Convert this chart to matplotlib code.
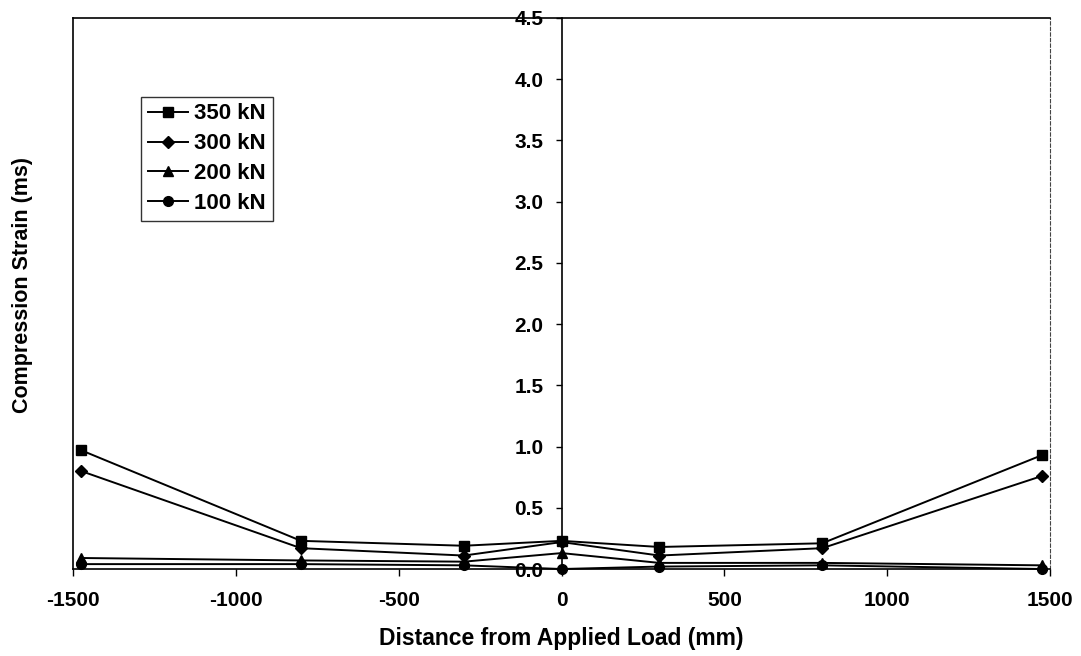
import numpy as np
import matplotlib.pyplot as plt

plt.rcParams['font.family'] = ['Liberation Sans', 'DejaVu Sans']

distance = [-1475, -800, -300, 0, 300, 800, 1475]
strain_350 = [0.97, 0.23, 0.19, 0.23, 0.18, 0.21, 0.93]
strain_300 = [0.80, 0.17, 0.11, 0.22, 0.11, 0.17, 0.76]
strain_200 = [0.09, 0.07, 0.06, 0.13, 0.05, 0.05, 0.03]
strain_100 = [0.04, 0.04, 0.03, 0.00, 0.02, 0.03, 0.00]

series = [
    ('350 kN', strain_350, 's'),
    ('300 kN', strain_300, 'D'),
    ('200 kN', strain_200, '^'),
    ('100 kN', strain_100, 'o'),
]
xticks = [-1500, -1000, -500, 0, 500, 1000, 1500]
yticks = [0.5, 1.0, 1.5, 2.0, 2.5, 3.0, 3.5, 4.0, 4.5]

fig = plt.figure(figsize=(10.81, 6.56), dpi=100)
ax = fig.add_axes([0.0675, 0.1326, 0.904, 0.840])

for label, vals, mk in series:
    ms = 6 if mk == 'D' else 7
    ax.plot(distance, vals, color='black', lw=1.4, marker=mk, ms=ms,
            label=label, clip_on=False, zorder=3)

ax.set_xlim(-1500, 1500)
ax.set_ylim(0, 4.5)

# y axis crosses at x = 0
ax.spines['left'].set_position(('data', 0))
ax.spines['left'].set_linewidth(1.2)
ax.spines['bottom'].set_linewidth(1.2)
ax.spines['top'].set_linewidth(1.2)
ax.spines['right'].set_linestyle((0, (3, 2)))
ax.spines['right'].set_linewidth(0.8)
ax.spines['right'].set_color('#444444')
ax.axvline(-1500, color='black', lw=1.2, clip_on=False)

ax.set_xticks(xticks)
ax.set_xticklabels([str(v) for v in xticks])
ax.set_yticks([0.0] + yticks)
ax.set_yticklabels(['0.0'] + ['%.1f' % v for v in yticks])
ax.tick_params(axis='x', direction='out', length=5, width=1, pad=11, labelsize=15)
ax.tick_params(axis='y', direction='out', length=4, width=1, pad=9, labelsize=15)
for t in ax.get_xticklabels() + ax.get_yticklabels():
    t.set_fontweight('bold')

ax.set_xlabel('Distance from Applied Load (mm)', fontsize=16.5, fontweight='bold', labelpad=12)
fig.text(0.021, 0.566, 'Compression Strain (ms)', rotation=90, fontsize=15.5,
         fontweight='bold', ha='center', va='center')

leg = ax.legend(loc='upper left', bbox_to_anchor=(0.0696, 0.857), borderaxespad=0,
                frameon=True, fancybox=False, edgecolor='black',
                handlelength=1.8, handletextpad=0.3, labelspacing=0.4,
                borderpad=0.3, prop={'weight': 'bold', 'size': 16})
leg.get_frame().set_linewidth(1.0)

fig.savefig('out.png', dpi=100)
